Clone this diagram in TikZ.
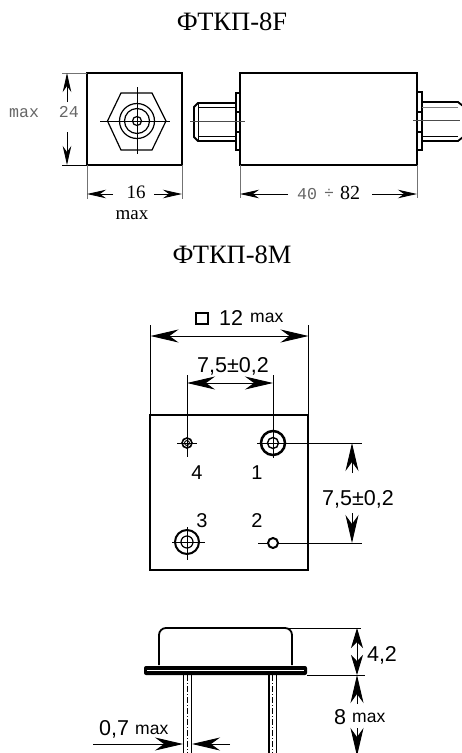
\documentclass[tikz,border=0pt]{standalone}
\usepackage{fontspec}
\setmainfont{Liberation Serif}
\setsansfont{Liberation Sans}
\setmonofont{Liberation Mono}
\usetikzlibrary{arrows.meta,calc}
\tikzset{
	outline/.style={line width=1.8pt},
	heavy/.style={line width=2.4pt},
	midline/.style={line width=1.2pt},
	thinline/.style={line width=.9pt},
	extline/.style={line width=.9pt,black!55},
	smalldim/.style={line width=.9pt,-{Stealth[length=19pt,width=8.5pt,inset=6pt]}},
	dim/.style={line width=.9pt,-{Stealth[length=28pt,width=13pt,inset=9pt]}},
	dimboth/.style={line width=.9pt,{Stealth[length=28pt,width=13pt,inset=9pt]}-{Stealth[length=28pt,width=13pt,inset=9pt]}},
	shortboth/.style={line width=.9pt,{Stealth[length=20pt,width=12pt,inset=6pt]}-{Stealth[length=20pt,width=12pt,inset=6pt]}},
	titletext/.style={font=\fontsize{26.5}{27}\selectfont,inner sep=0pt},
	serifdim/.style={font=\fontsize{19}{19}\selectfont,inner sep=0pt},
	monodim/.style={font=\fontsize{16.6}{17}\ttfamily,text=black!60,inner sep=0pt},
	sansdim/.style={font=\fontsize{21.5}{22}\sffamily,inner sep=0pt},
	sansmax/.style={font=\fontsize{17.5}{18}\sffamily,inner sep=0pt},
	pinlabel/.style={font=\fontsize{20}{20}\sffamily,inner sep=0pt}
}
\begin{document}
\begin{tikzpicture}[x=1pt,y=-1pt]
			\clip (0,0) rectangle (462,753);
			\fill[white] (0,0) rectangle (462,753);
			
			\coordinate(H) at (137,121);
			\coordinate(A1) at (187,443);
			\coordinate(A2) at (273,443);
			\coordinate(A3) at (187,542);
			\coordinate(A4) at (273,543);
			
			\node[titletext] (titleF) at (232,22) {ФТКП-8F};
			\node[titletext] (titleM) at (232,254.5) {ФТКП-8М};
			
			\draw[outline] (87,73) rectangle (182,165);
			\draw[midline] (107.5,121) -- (121,93) -- (152,93) -- (166,121) -- (152,150) -- (121,150) -- cycle;
			\draw[midline] (H) circle (17.5);
			\draw[midline] (H) circle (12.5);
			\draw[midline] (H) circle (4.5);
			\draw[line width=.5pt] (100,121) -- (170,121);
			\draw[line width=.5pt] (137,87) -- (137,154);
			
			\draw[extline] (62,73) -- (87,73);
			\draw[thinline] (62,165) -- (87,165);
			\draw[smalldim] (67,102) -- (67,73);
			\draw[smalldim] (67,132) -- (67,165);
			\node[monodim] (label24) at (44,112) {max~~24};
			
			\draw[extline] (87,165) -- (87,199);
			\draw[extline] (182,165) -- (182,199);
			\draw[smalldim] (113,194) -- (87,194);
			\draw[smalldim] (154,194) -- (182,194);
			\node[serifdim] (label16) at (136,192) {16};
			\node[serifdim] (labelmax) at (132,215) {max};
			
			\draw[outline] (240,73) rectangle (417,165);
			\draw[midline] (236,93) rectangle (240,150);
			\draw[midline] (236,112) -- (240,112);
			\draw[midline] (236,132) -- (240,132);
			\draw[midline] (417,92) rectangle (422,150);
			\draw[midline] (417,112) -- (422,112);
			\draw[midline] (417,132) -- (422,132);
			
			\draw[outline] (236,103) -- (198,103) -- (194,107) -- (194,137) -- (198,141) -- (236,141);
			\draw[thinline] (198,103) -- (198,141);
			\draw[thinline] (198,107) -- (236,107);
			\draw[thinline] (198,136) -- (236,136);
			\draw[line width=.5pt,black!70] (190,121) -- (245,121);
			
			\draw[outline] (422,102) -- (458,102) -- (463,106) -- (463,137) -- (458,141) -- (422,141);
			\draw[thinline,black!50] (422,107) -- (458,107);
			\draw[thinline] (422,136) -- (458,136);
			\draw[line width=.5pt,black!70] (413,120) -- (460,120);
			
			\draw[extline] (240,165) -- (240,198);
			\draw[extline] (417,165) -- (417,198);
			\draw[smalldim] (288,194) -- (240,194);
			\draw[smalldim] (372,194) -- (417,194);
			\node[monodim] (label40) at (307,194) {40};
			\node[monodim] (labeldiv) at (329,194) {÷};
			\node[serifdim,font=\fontsize{20}{20}\selectfont] (label82) at (350,193) {82};
			
			\draw[heavy] (150,415) rectangle (308,570);
			\draw[thinline] (150.5,415) -- (150.5,325);
			\draw[thinline] (308.5,415) -- (308.5,325);
			\draw[dimboth] (150.5,336) -- (308.5,336);
			\draw[line width=1.2pt] (196,313) rectangle (208,324);
			\node[sansdim,anchor=west] (label12) at (219,318) {12};
			\node[sansmax,anchor=west] (labelmaxA) at (250,318) {max};
			
			\draw[thinline] (187,375) -- (A1);
			\draw[thinline] (273,375) -- (A2);
			\draw[dimboth] (187,383) -- (273,383);
			\node[sansdim] (labelH) at (233,366) {7,5±0,2};
			
			\draw[line width=1.6pt] (A1) circle (5);
			\draw[thinline] (A1) circle (2.5);
			\draw[thinline] ($(A1)+(-10,0)$) -- ($(A1)+(10,0)$);
			\draw[thinline] ($(A1)+(0,-10)$) -- ($(A1)+(0,14)$);
			
			\draw[line width=2.5pt] (A2) circle (12);
			\draw[line width=1.4pt] (A2) circle (5.5);
			\draw[thinline] ($(A2)+(-16,0)$) -- (362,443);
			\draw[thinline] ($(A2)+(0,-15)$) -- ($(A2)+(0,15)$);
			
			\draw[line width=2pt] (A3) circle (12);
			\draw[line width=1.2pt] (A3) circle (6);
			\draw[thinline] ($(A3)+(-15,0)$) -- ($(A3)+(18,0)$);
			\draw[thinline] ($(A3)+(0,-15)$) -- ($(A3)+(0,18)$);
			
			\draw[thinline] (258,543) -- (362,543);
			\draw[line width=2pt,fill=white] (A4) circle (5);
			
			\draw[dim] (352,473) -- (352,443);
			\draw[dim] (352,513) -- (352,543);
			\node[sansdim] (labelV) at (358,499) {7,5±0,2};
			
			\node[pinlabel] (pin4) at (197,473) {4};
			\node[pinlabel] (pin1) at (257,473) {1};
			\node[pinlabel] (pin3) at (202,521) {3};
			\node[pinlabel] (pin2) at (257,521) {2};
			
			\draw[outline] (159,665) -- (159,635) arc[start angle=180,end angle=270,radius=7] -- (285,628) arc[start angle=270,end angle=360,radius=7] -- (292,665);
			\fill[rounded corners=2pt] (144,666) rectangle (307,675);
			\draw[white,line width=.8pt] (147,670.5) -- (304,670.5);
			
			\draw[line width=1.5pt] (183.5,675) -- (183.5,753);
			\draw[line width=1.5pt] (191.5,675) -- (191.5,753);
			\draw[line width=1.5pt] (269,675) -- (269,753);
			\draw[line width=1.5pt] (276.5,675) -- (276.5,753);
			\draw[line width=.5pt,dash pattern=on 6pt off 2pt on 1pt off 2pt] (187.5,675) -- (187.5,753);
			\draw[line width=.5pt,dash pattern=on 6pt off 2pt on 1pt off 2pt] (272.5,675) -- (272.5,753);
			
			\draw[thinline] (286,628) -- (361,628);
			\draw[thinline] (307,675) -- (365,675);
			\draw[shortboth] (357,628) -- (357,675);
			\node[sansdim] (label42) at (382,655) {4,2};
			\draw[dim] (357,704) -- (357,675);
			\draw[dim] (357,728) -- (357,756);
			\node[sansdim,anchor=west] (label8) at (334,717) {8};
			\node[sansmax,anchor=west] (labelmaxB) at (352,718) {max};
			
			\node[sansdim,anchor=west] (label07) at (99,729) {0,7};
			\node[sansmax,anchor=west] (labelmaxC) at (135,730) {max};
			\draw[dim] (93,744) -- (183,744);
			\draw[dim] (230,744) -- (192,744);
		\end{tikzpicture}
\end{document}
